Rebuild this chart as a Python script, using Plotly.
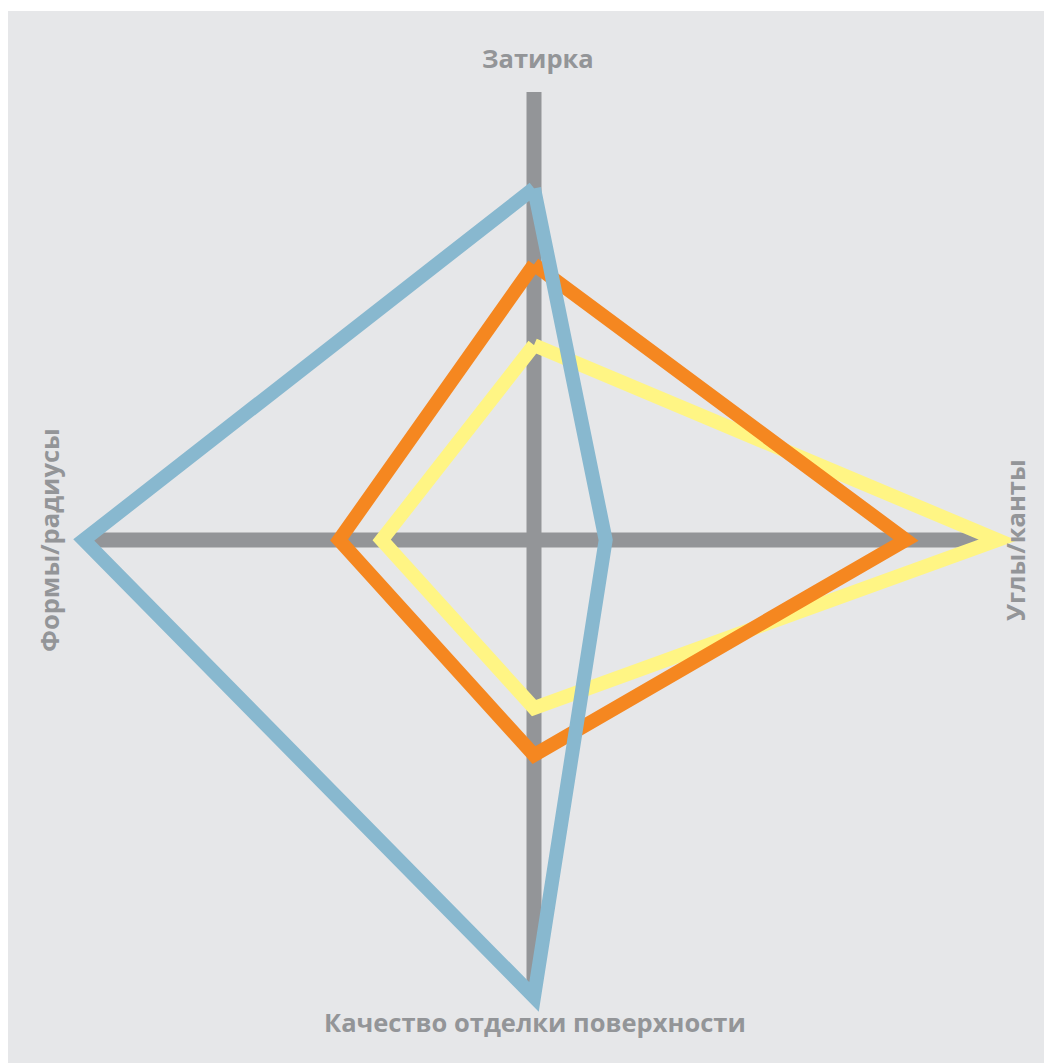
import plotly.graph_objects as go

categories = ["Затирка", "Углы/канты", "Качество отделки поверхности", "Формы/радиусы"]
series_names = ["Желтый", "Оранжевый", "Голубой"]
yellow_vals = [4.35, 10.35, 3.75, 3.4]
orange_vals = [6.15, 8.3, 4.8, 4.35]
blue_vals = [7.85, 1.6, 10.2, 10.05]
series_colors = ["#fff584", "#f58720", "#88b8cf"]
axis_max = 10

W, H = 1052, 1063
OFF = 8  # page body margin
RANGE_MAX = 10.8
cx, cy = 534 - OFF, 540 - OFF
R = 448 * RANGE_MAX / axis_max

fig = go.Figure()
# axis spokes
for cat in categories:
    fig.add_trace(go.Scatterpolar(
        r=[0, axis_max], theta=[cat, cat], mode="lines",
        line=dict(color="#939598", width=15), hoverinfo="skip", showlegend=False))

for name, vals, col in zip(series_names, [yellow_vals, orange_vals, blue_vals], series_colors):
    fig.add_trace(go.Scatterpolar(
        r=vals + vals[:1], theta=categories + categories[:1],
        mode="lines", name=name, line=dict(color=col, width=14),
        cliponaxis=False, hoverinfo="skip"))

fig.update_layout(
    width=W, height=H,
    margin=dict(l=0, r=0, t=0, b=0),
    paper_bgcolor="white",
    showlegend=False,
    shapes=[dict(type="rect", xref="paper", yref="paper",
                 x0=0, x1=1, y0=0, y1=1 - 3 / H,
                 fillcolor="#e6e7e9", line=dict(width=0), layer="below")],
    polar=dict(
        domain=dict(x=[(cx - R) / W, (cx + R) / W],
                    y=[(H - cy - R) / H, (H - cy + R) / H]),
        bgcolor="rgba(0,0,0,0)",
        radialaxis=dict(range=[0, RANGE_MAX], visible=True, showline=False, showgrid=False,
                        showticklabels=False, ticks=""),
        angularaxis=dict(rotation=90, direction="clockwise", showline=False,
                         showgrid=False, showticklabels=False, ticks=""),
    ),
)

font = dict(family="Open Sans", size=25.5, color="#939598")
ann = [
    dict(text="<b>" + categories[0] + "</b>", x=538, y=58, textangle=0),
    dict(text="<b>" + categories[1] + "</b>", x=1015, y=540, textangle=-90),
    dict(text="<b>" + categories[2] + "</b>", x=535, y=1022, textangle=0),
    dict(text="<b>" + categories[3] + "</b>", x=49, y=540, textangle=-90),
]
for a in ann:
    fig.add_annotation(text=a["text"], x=(a["x"] - OFF) / W, y=1 - (a["y"] - OFF) / H,
                       xref="paper", yref="paper", showarrow=False,
                       textangle=a["textangle"], font=font,
                       xanchor="center", yanchor="middle")

js = ("document.querySelectorAll('.scatterlayer path.js-line').forEach("
      "function(p){p.style.strokeLinejoin='miter';p.style.strokeMiterlimit='6';"
      "p.style.strokeLinecap='butt';});")
fig.write_html("out.html", post_script=js)
